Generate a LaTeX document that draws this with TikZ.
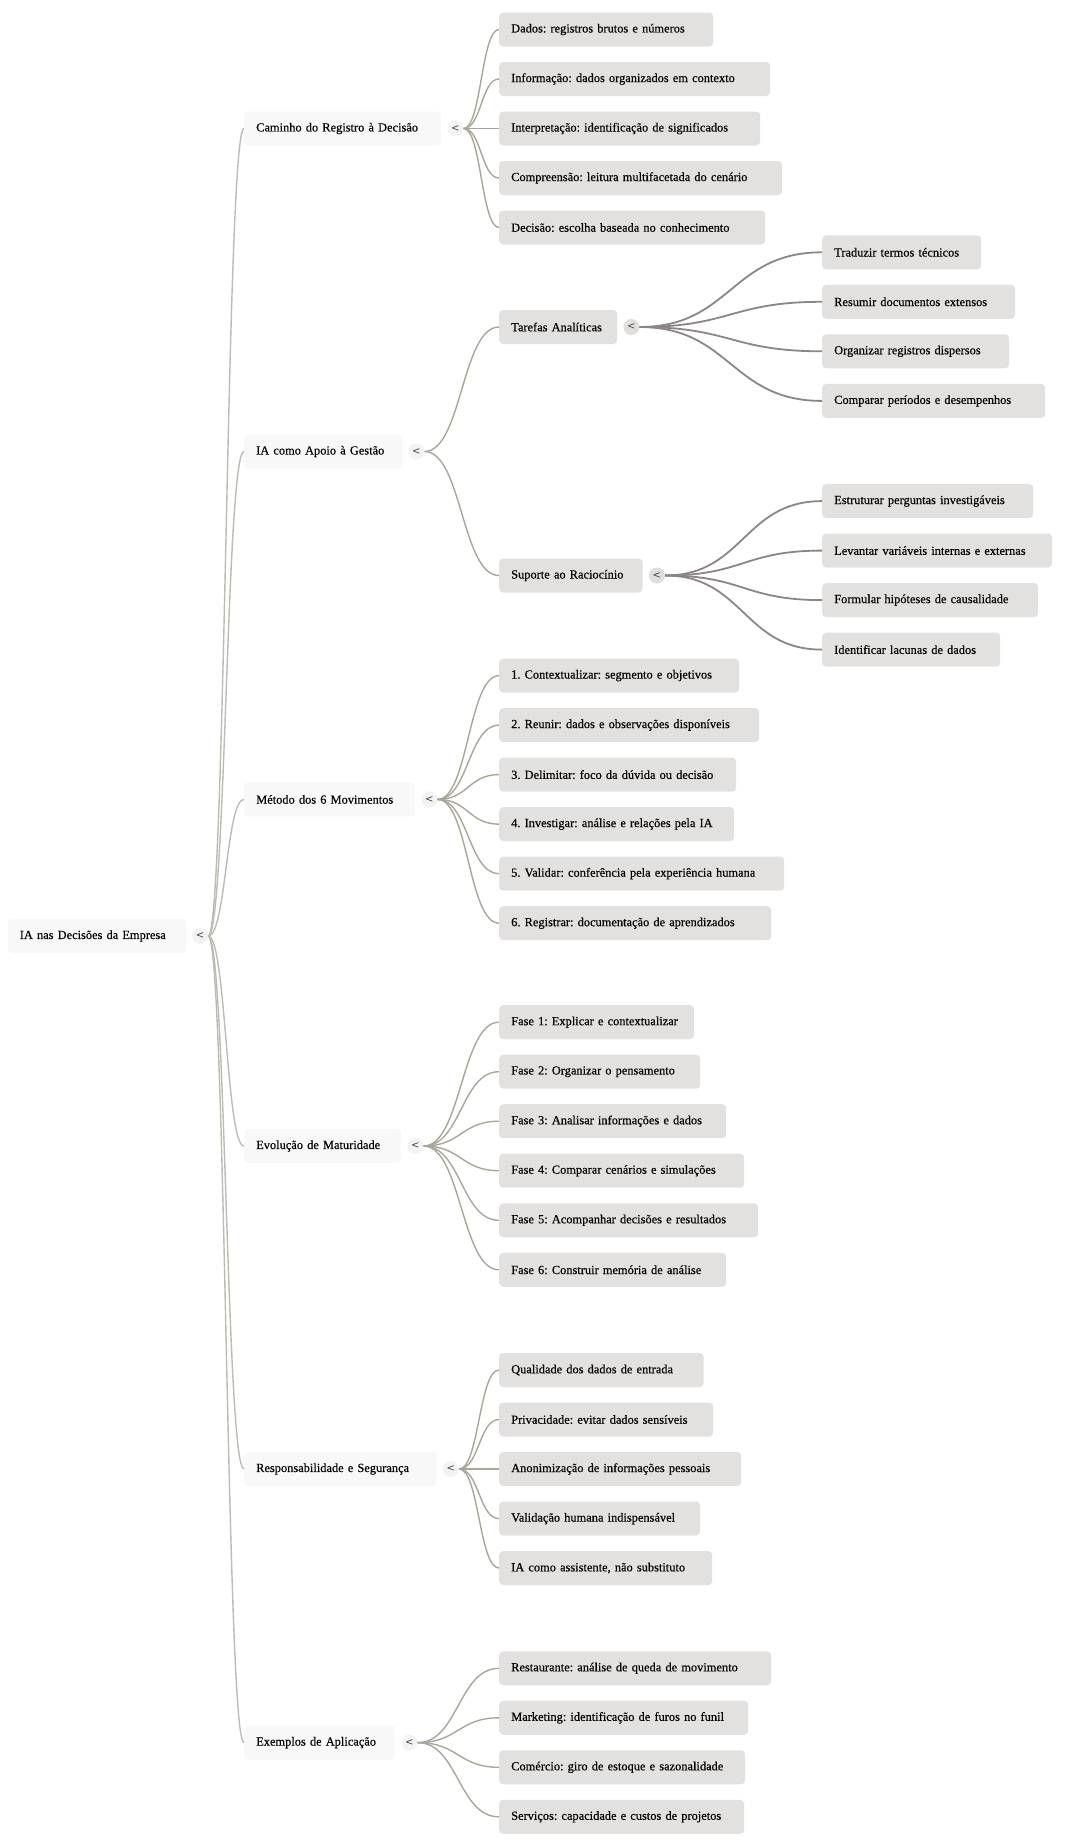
\documentclass[tikz,border=0pt]{standalone}
\usepackage{fontspec}
\setmainfont{Liberation Serif}[FakeBold=0.35]
\newfontfamily\togfont{DejaVu Sans}
\usetikzlibrary{calc}
\frenchspacing
\definecolor{leaffill}{HTML}{E3E1DF}
\definecolor{topfill}{HTML}{F8F8F8}
\definecolor{rootline}{HTML}{BDBBB3}
\definecolor{midline}{HTML}{A9A699}
\definecolor{deepline}{HTML}{8B8685}
\definecolor{togdark}{HTML}{E1DFDD}
\definecolor{toglight}{HTML}{F3F3F3}
\definecolor{txt}{HTML}{000000}
\tikzset{
 mmbox/.style={rectangle, rounded corners=4pt, minimum height=34pt, inner xsep=12pt, inner ysep=0pt, anchor=west, align=left, font=\fontsize{12.4}{14}\selectfont\frenchspacing, text=txt},
 topbox/.style={mmbox, fill=topfill},
 leafbox/.style={mmbox, fill=leaffill},
 togl/.style={circle, minimum size=16pt, inner sep=0pt, fill=toglight, font=\togfont\fontsize{10}{10}\selectfont, text=black!75},
 togd/.style={togl, fill=togdark},
 rootedge/.style={draw=rootline, line width=1.4pt},
 midedge/.style={draw=midline, line width=1.4pt},
 deepedge/.style={draw=deepline, line width=1.8pt},
}
\newcommand{\mmedge}[3]{\path[#1] let \p1=(#2), \p2=(#3) in (\p1) .. controls ({0.5*\x1+0.5*\x2},\y1) and ({0.5*\x1+0.5*\x2},\y2) .. (\p2);}
\newcommand{\mmleaf}[7]{\node[leafbox, text width=#4pt] (#1) at (#2,#3) {#5};\mmedge{#6}{#7.east}{#1.west}}
\begin{document}
\begin{tikzpicture}[x=1pt,y=-1pt]
\fill[white] (0,0) rectangle (1080,1848);
\useasboundingbox (0,0) rectangle (1080,1848);

% root
\node[topbox, text width=154pt] (r) at (7.6,936) {IA nas Decisões da Empresa};
\node[togl] (rt) at ($(r.east)+(14,0)$) {<};

% level 1
\node[topbox, text width=173pt] (c1) at (244,128.5) {Caminho do Registro à Decisão};
\node[topbox, text width=134pt] (c2) at (244,451.5) {IA como Apoio à Gestão};
\node[topbox, text width=147pt] (c3) at (244,799.4) {Método dos 6 Movimentos};
\node[topbox, text width=133pt] (c4) at (244,1146) {Evolução de Maturidade};
\node[topbox, text width=168.5pt] (c5) at (244,1469) {Responsabilidade e Segurança};
\node[topbox, text width=127pt] (c6) at (244,1742.6) {Exemplos de Aplicação};
\foreach \i in {1,...,6}{
  \node[togl] (c\i t) at ($(c\i.east)+(14,0)$) {<};
  \mmedge{rootedge}{rt.east}{c\i.west}
}

% level 2 under Apoio
\node[leafbox, text width=94pt] (a1) at (499,327) {Tarefas Analíticas};
\node[leafbox, text width=119.5pt] (a2) at (499,575.5) {Suporte ao Raciocínio};
\node[togd] (a1t) at ($(a1.east)+(14,0)$) {<};
\node[togd] (a2t) at ($(a2.east)+(14,0)$) {<};
\mmedge{midedge}{c2t.east}{a1.west}
\mmedge{midedge}{c2t.east}{a2.west}

% Caminho leaves
\mmleaf{l11}{499}{29.5}{190}{Dados: registros brutos e números}{midedge}{c1t}
\mmleaf{l12}{499}{79}{247}{Informação: dados organizados em contexto}{midedge}{c1t}
\mmleaf{l13}{499}{128.5}{237}{Interpretação: identificação de significados}{midedge}{c1t}
\mmleaf{l14}{499}{178}{259}{Compreensão: leitura multifacetada do cenário}{midedge}{c1t}
\mmleaf{l15}{499}{227.5}{242}{Decisão: escolha baseada no conhecimento}{midedge}{c1t}

% Tarefas leaves
\mmleaf{t1}{822}{252.3}{135}{Traduzir termos técnicos}{deepedge}{a1t}
\mmleaf{t2}{822}{301.8}{169}{Resumir documentos extensos}{deepedge}{a1t}
\mmleaf{t3}{822}{351.3}{163}{Organizar registros dispersos}{deepedge}{a1t}
\mmleaf{t4}{822}{400.9}{199}{Comparar períodos e desempenhos}{deepedge}{a1t}

% Suporte leaves
\mmleaf{s1}{822}{501.1}{187}{Estruturar perguntas investigáveis}{deepedge}{a2t}
\mmleaf{s2}{822}{550.6}{206}{Levantar variáveis internas e externas}{deepedge}{a2t}
\mmleaf{s3}{822}{600.1}{192}{Formular hipóteses de causalidade}{deepedge}{a2t}
\mmleaf{s4}{822}{649.6}{154}{Identificar lacunas de dados}{deepedge}{a2t}

% Metodo leaves
\mmleaf{m1}{499}{675.6}{216}{1. Contextualizar: segmento e objetivos}{midedge}{c3t}
\mmleaf{m2}{499}{725.1}{236}{2. Reunir: dados e observações disponíveis}{midedge}{c3t}
\mmleaf{m3}{499}{774.6}{213}{3. Delimitar: foco da dúvida ou decisão}{midedge}{c3t}
\mmleaf{m4}{499}{824.1}{211}{4. Investigar: análise e relações pela IA}{midedge}{c3t}
\mmleaf{m5}{499}{873.6}{261}{5. Validar: conferência pela experiência humana}{midedge}{c3t}
\mmleaf{m6}{499}{923.2}{248}{6. Registrar: documentação de aprendizados}{midedge}{c3t}

% Evolucao leaves
\mmleaf{e1}{499}{1022.2}{171}{Fase 1: Explicar e contextualizar}{midedge}{c4t}
\mmleaf{e2}{499}{1071.7}{177}{Fase 2: Organizar o pensamento}{midedge}{c4t}
\mmleaf{e3}{499}{1121.2}{203}{Fase 3: Analisar informações e dados}{midedge}{c4t}
\mmleaf{e4}{499}{1170.7}{221}{Fase 4: Comparar cenários e simulações}{midedge}{c4t}
\mmleaf{e5}{499}{1220.3}{235}{Fase 5: Acompanhar decisões e resultados}{midedge}{c4t}
\mmleaf{e6}{499}{1269.8}{203}{Fase 6: Construir memória de análise}{midedge}{c4t}

% Responsabilidade leaves
\mmleaf{p1}{499}{1370}{180.5}{Qualidade dos dados de entrada}{midedge}{c5t}
\mmleaf{p2}{499}{1419.5}{190}{Privacidade: evitar dados sensíveis}{midedge}{c5t}
\mmleaf{p3}{499}{1469}{218}{Anonimização de informações pessoais}{midedge}{c5t}
\mmleaf{p4}{499}{1518.6}{177}{Validação humana indispensável}{midedge}{c5t}
\mmleaf{p5}{499}{1568}{189}{IA como assistente, não substituto}{midedge}{c5t}

% Exemplos leaves
\mmleaf{x1}{499}{1668.3}{248}{Restaurante: análise de queda de movimento}{midedge}{c6t}
\mmleaf{x2}{499}{1717.8}{225}{Marketing: identificação de furos no funil}{midedge}{c6t}
\mmleaf{x3}{499}{1767.3}{222}{Comércio: giro de estoque e sazonalidade}{midedge}{c6t}
\mmleaf{x4}{499}{1816.8}{221}{Serviços: capacidade e custos de projetos}{midedge}{c6t}
\end{tikzpicture}
\end{document}
